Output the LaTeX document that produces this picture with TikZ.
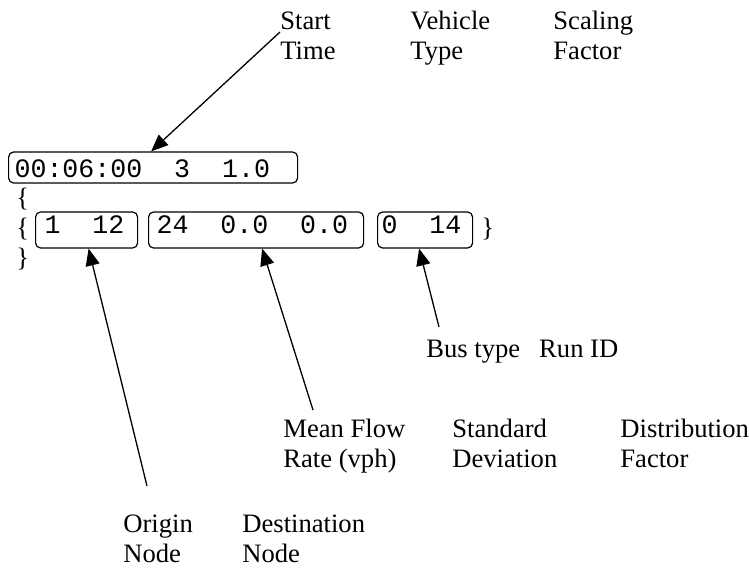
\documentclass[tikz,border=0pt]{standalone}
\usepackage{fontspec}
\setmainfont{Liberation Serif}
\setmonofont{Liberation Mono}
\usetikzlibrary{arrows.meta}
\newcommand{\fieldgap}{\hspace*{15.96pt}}

\begin{document}
\begin{tikzpicture}[x = 0.5pt, y = -0.5pt, font = \fontsize{13.3pt}{15pt}\selectfont]
\tikzstyle{labelStyle} = [anchor = base west, align = left, inner sep = 0pt]
\tikzstyle{braceStyle} = [anchor = base west, inner sep = 0pt]
\tikzstyle{fieldStyle} = [draw, line width = 0.6pt, rounded corners = 2.5pt, anchor = west, align = left, inner ysep = 0pt, font = \fontsize{13.3pt}{15pt}\selectfont\ttfamily]
\tikzstyle{headStyle} = [fieldStyle, minimum height = 15.5pt, text height = 9.9pt, text depth = 0pt]
\tikzstyle{rowStyle} = [fieldStyle, minimum height = 18pt, text height = 8.2pt, text depth = 4.5pt]
\tikzstyle{pointerStyle} = [-{Triangle[length = 8.5pt, width = 7pt]}, line width = 0.65pt]
\useasboundingbox (0, 0) rectangle (749, 568);
% field boxes
\node[headStyle, inner xsep = 3pt, text width = 138.5pt] (head) at (8, 167.5) {00:06:00\fieldgap3\fieldgap1.0};
\node[rowStyle, inner xsep = 4.5pt, text width = 42pt] (od) at (35, 230) {1\fieldgap12};
\node[rowStyle, inner xsep = 4pt, text width = 99.5pt] (flow) at (148, 230) {24\fieldgap0.0\fieldgap0.0};
\node[rowStyle, inner xsep = 2pt, text width = 43.5pt] (bus) at (377, 230) {0\fieldgap14};
% braces
\node[braceStyle] (open1) at (16, 206) {\{};
\node[braceStyle] (open2) at (16, 236) {\{};
\node[braceStyle] (close2) at (481, 236) {\}};
\node[braceStyle] (close1) at (16, 266) {\}};
% labels (base = last line)
\node[labelStyle] (start) at (280, 59) {Start\\Time};
\node[labelStyle] (vtype) at (410, 59) {Vehicle\\Type};
\node[labelStyle] (scale) at (553, 59) {Scaling\\Factor};
\node[labelStyle] (busrun) at (426, 357) {Bus type\hspace{9.5pt}Run ID};
\node[labelStyle] (mean) at (283, 467) {Mean Flow\\Rate (vph)};
\node[labelStyle] (stdev) at (452, 467) {Standard\\Deviation};
\node[labelStyle] (dist) at (620, 467) {Distribution\\Factor};
\node[labelStyle] (origin) at (123, 562) {Origin\\Node};
\node[labelStyle] (dest) at (242, 562) {Destination\\Node};
% pointers
\coordinate (startTail) at (280, 32);
\coordinate (busTail) at (439, 327);
\coordinate (meanTail) at (313, 410);
\coordinate (originTail) at (147, 486);
\draw[pointerStyle] (startTail) -- ([xshift = -1pt]head.north);
\draw[pointerStyle] (busTail) -- ([xshift = -3pt]bus.south);
\draw[pointerStyle] (meanTail) -- ([xshift = 3pt]flow.south);
\draw[pointerStyle] (originTail) -- ([xshift = 1pt]od.south);
\end{tikzpicture}
\end{document}
